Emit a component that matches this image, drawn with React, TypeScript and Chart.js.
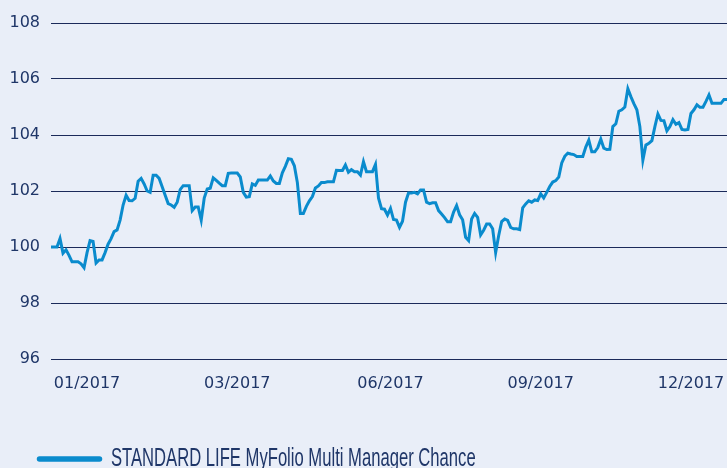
import React, { useEffect, useRef } from "react";
import { Chart, registerables } from "chart.js";

Chart.register(...registerables);

const SERIES_NAME = "STANDARD LIFE MyFolio Multi Manager Chance";

const VALUES: number[] = [
  100, 100, 100, 100.3, 99.78, 99.9, 99.7, 99.47, 99.47, 99.47,
  99.4, 99.26, 99.8, 100.23, 100.2, 99.43, 99.54, 99.54, 99.8, 100.1,
  100.3, 100.55, 100.61, 100.96, 101.5, 101.85, 101.66, 101.65, 101.74, 102.35,
  102.45, 102.25, 102.0, 101.95, 102.56, 102.56, 102.45, 102.15, 101.85, 101.55,
  101.5, 101.42, 101.6, 102.05, 102.19, 102.19, 102.19, 101.3, 101.43, 101.43,
  100.96, 101.75, 102.07, 102.1, 102.47, 102.38, 102.28, 102.19, 102.19, 102.63,
  102.64, 102.64, 102.64, 102.5, 101.95, 101.78, 101.8, 102.25, 102.2, 102.39,
  102.39, 102.39, 102.39, 102.54, 102.36, 102.27, 102.27, 102.65, 102.88, 103.15,
  103.13, 102.9, 102.3, 101.2, 101.2, 101.45, 101.65, 101.8, 102.11, 102.18,
  102.3, 102.3, 102.33, 102.33, 102.33, 102.74, 102.73, 102.73, 102.93, 102.67,
  102.76, 102.69, 102.69, 102.57, 103.05, 102.69, 102.69, 102.69, 102.95, 101.75,
  101.37, 101.35, 101.14, 101.38, 100.98, 100.96, 100.7, 100.92, 101.6, 101.93,
  101.93, 101.95, 101.9, 102.04, 102.04, 101.6, 101.55, 101.58, 101.58, 101.3,
  101.18, 101.05, 100.9, 100.9, 101.25, 101.48, 101.15, 100.97, 100.35, 100.23,
  101.0, 101.2, 101.06, 100.43, 100.6, 100.82, 100.82, 100.65, 99.8, 100.4,
  100.91, 101.0, 100.95, 100.7, 100.65, 100.65, 100.62, 101.4, 101.54, 101.65,
  101.6, 101.68, 101.66, 101.9, 101.75, 101.95, 102.16, 102.32, 102.37, 102.5,
  103.0, 103.24, 103.35, 103.32, 103.3, 103.23, 103.23, 103.23, 103.57, 103.82,
  103.4, 103.4, 103.55, 103.85, 103.53, 103.48, 103.49, 104.3, 104.4, 104.85,
  104.9, 105.0, 105.65, 105.37, 105.12, 104.9, 104.3, 103.1, 103.64, 103.7,
  103.8, 104.3, 104.75, 104.52, 104.51, 104.15, 104.3, 104.55, 104.38, 104.44,
  104.2, 104.18, 104.2, 104.77, 104.9, 105.08, 104.99, 104.99, 105.2, 105.43,
  105.13, 105.13, 105.13, 105.13, 105.27, 105.27,
];

const CATEGORIES: string[] = VALUES.map((_, i) => String(i));

const TICK_LABELS = ["01/2017", "03/2017", "06/2017", "09/2017", "12/2017"];
const TICK_INDEX = [12, 62, 113, 163, 213];

const Y_MIN = 96;
const Y_MAX = 108;
const Y_STEP = 2;

const BG = "#e9eef8";
const GRID = "#1b2a5a";
const TEXT = "#1f3668";
const LINE = "#0a8bcd";

// Legend drawn on the canvas with a condensed look (horizontal scale of the text)
const condensedLegend = {
  id: "condensedLegend",
  afterDraw(chart: any) {
    const ctx = chart.ctx as CanvasRenderingContext2D;
    const ds = chart.data.datasets[0];
    ctx.save();
    ctx.strokeStyle = ds.borderColor;
    ctx.lineWidth = 5.5;
    ctx.lineCap = "round";
    ctx.beginPath();
    ctx.moveTo(39.5, 459);
    ctx.lineTo(99.5, 459);
    ctx.stroke();
    ctx.font = '25px "Liberation Sans", Arial, sans-serif';
    ctx.fillStyle = TEXT;
    ctx.textBaseline = "alphabetic";
    ctx.textAlign = "left";
    ctx.translate(111, 466);
    ctx.scale(0.665, 1);
    ctx.fillText(ds.label, 0, 0);
    ctx.restore();
  },
};

export default function App() {
  const ref = useRef<HTMLCanvasElement | null>(null);

  useEffect(() => {
    if (!ref.current) return;
    const chart = new Chart(ref.current, {
      type: "line",
      data: {
        labels: CATEGORIES,
        datasets: [
          {
            label: SERIES_NAME,
            data: VALUES,
            borderColor: LINE,
            backgroundColor: LINE,
            borderWidth: 3,
            pointRadius: 0,
            pointHoverRadius: 0,
            tension: 0,
            fill: false,
          },
        ],
      },
      plugins: [condensedLegend],
      options: {
        animation: false,
        responsive: false,
        devicePixelRatio: 1,
        layout: { autoPadding: false, padding: { top: 23, left: 0, right: 0, bottom: 60 } },
        plugins: {
          tooltip: { enabled: false },
          legend: { display: false },
        },
        scales: {
          x: {
            type: "category",
            offset: false,
            grid: { display: false, drawTicks: false },
            border: { display: false },
            afterFit: (s: any) => {
              s.height = 49;
              s.paddingLeft = 0;
              s.paddingRight = 0;
            },
            ticks: {
              autoSkip: false,
              maxRotation: 0,
              minRotation: 0,
              padding: 15,
              color: TEXT,
              font: { family: '"DejaVu Sans", sans-serif', size: 16 },
              callback: (_v: any, i: number) => {
                const k = TICK_INDEX.indexOf(i);
                return k >= 0 ? TICK_LABELS[k] : "";
              },
            },
          },
          y: {
            min: Y_MIN,
            max: Y_MAX,
            grid: { color: GRID, lineWidth: 1, drawTicks: false },
            border: { display: false },
            afterFit: (s: any) => {
              s.width = 51;
            },
            ticks: {
              stepSize: Y_STEP,
              padding: 11,
              color: TEXT,
              font: { family: '"DejaVu Sans", sans-serif', size: 16 },
            },
          },
        },
      },
    });
    return () => chart.destroy();
  }, []);

  return (
    <div
      style={{
        position: "fixed",
        left: 0,
        top: 0,
        width: 727,
        height: 468,
        overflow: "hidden",
        background: BG,
      }}
    >
      <canvas ref={ref} width={727} height={468} style={{ display: "block" }} />
    </div>
  );
}
